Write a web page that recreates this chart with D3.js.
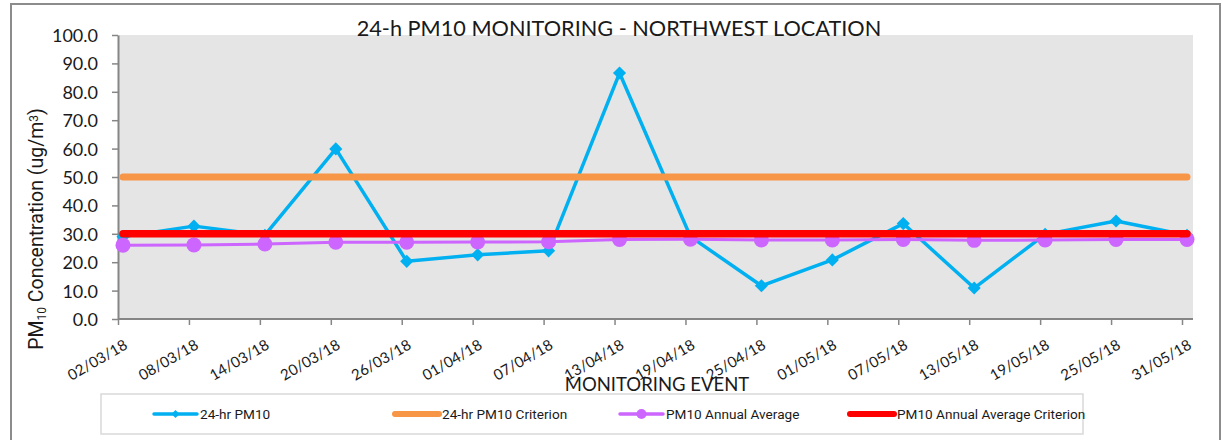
<!DOCTYPE html>
<html>
<head>
<meta charset="utf-8">
<script src="https://cdn.jsdelivr.net/npm/d3@7"></script>
<style>
  body { margin: 0; background: #fff; }
  svg { display: block; }
</style>
</head>
<body>
<div id="chart"></div>
<script>
// monitoring dates (category axis)
const dates = ['02/03/18','08/03/18','14/03/18','20/03/18','26/03/18','01/04/18','07/04/18','13/04/18',
               '19/04/18','25/04/18','01/05/18','07/05/18','13/05/18','19/05/18','25/05/18','31/05/18'];
// 24-hr PM10 readings (ug/m3)
const pm10 = [29.0, 32.7, 29.5, 59.9, 20.3, 22.6, 24.0, 86.6, 29.0, 11.7, 20.8, 33.6, 10.9, 29.8, 34.5, 29.5];
// running annual average
const annualAvg = [26.0, 26.1, 26.4, 27.0, 27.0, 27.1, 27.2, 28.0, 28.1, 27.8, 27.8, 28.0, 27.7, 27.8, 28.0, 28.0];
// criteria
const criterion24h = 50;
const criterionAnnual = 30;
const yTicks = [0, 10, 20, 30, 40, 50, 60, 70, 80, 90, 100];

const W = 1222, H = 440;
const plotL = 118, plotR = 1193, plotT = 35, plotB = 319;

const svg = d3.select('#chart').append('svg')
  .attr('width', W).attr('height', H);

// outer chart border
svg.append('rect')
  .attr('x', 11).attr('y', 4).attr('width', 1209).attr('height', 460)
  .attr('fill', 'none').attr('stroke', '#8c8c8c').attr('stroke-width', 2);

// plot area
svg.append('rect')
  .attr('x', plotL).attr('y', plotT).attr('width', plotR - plotL).attr('height', plotB - plotT)
  .attr('fill', '#e5e5e5');

const x = d3.scalePoint().domain(dates).range([123, 1187]);
const y = d3.scaleLinear().domain([0, 100]).range([plotB, plotT]);

// y axis
const yAxis = svg.append('g')
  .attr('transform', 'translate(' + plotL + ',0)')
  .call(d3.axisLeft(y).tickValues(yTicks).tickFormat(d3.format('.1f')).tickSize(6).tickSizeOuter(0));
yAxis.select('.domain').attr('stroke', '#868686').attr('stroke-width', 2);
yAxis.selectAll('.tick line').attr('stroke', '#868686').attr('stroke-width', 1.5);
yAxis.selectAll('.tick text')
  .attr('x', -20).attr('dy', '0.36em')
  .style('font-family', 'Lato, sans-serif').style('font-size', '18px').attr('fill', '#1a1a1a');

// x axis (ticks sit slightly left of points, like the original)
const xAxis = svg.append('g')
  .attr('transform', 'translate(-5,' + plotB + ')')
  .call(d3.axisBottom(x).tickSize(6).tickSizeOuter(0));
xAxis.select('.domain').remove();
xAxis.selectAll('.tick line').attr('stroke', '#868686').attr('stroke-width', 1.5);
xAxis.selectAll('.tick text')
  .attr('text-anchor', 'end')
  .attr('x', 0).attr('y', 0).attr('dy', 0)
  .attr('transform', 'translate(10,29) rotate(-30)')
  .style('font-family', 'Lato, sans-serif').style('font-size', '15px').attr('fill', '#1a1a1a');
svg.append('line')
  .attr('x1', plotL).attr('x2', plotR).attr('y1', plotB).attr('y2', plotB)
  .attr('stroke', '#868686').attr('stroke-width', 2);

// series: 24-hr PM10
const line = d3.line().x((d, i) => x(dates[i])).y(d => y(d));
svg.append('path').datum(pm10)
  .attr('d', line).attr('fill', 'none')
  .attr('stroke', '#00b0f0').attr('stroke-width', 3.5).attr('stroke-linejoin', 'round');
svg.selectAll('.diamond').data(pm10).enter().append('path')
  .attr('class', 'diamond')
  .attr('d', d3.symbol().type(d3.symbolDiamond2).size(110))
  .attr('transform', (d, i) => 'translate(' + x(dates[i]) + ',' + y(d) + ')')
  .attr('fill', '#00b0f0');

// 24-hr criterion
svg.append('line')
  .attr('x1', x(dates[0])).attr('x2', x(dates[dates.length - 1]))
  .attr('y1', y(criterion24h)).attr('y2', y(criterion24h))
  .attr('stroke', '#f79646').attr('stroke-width', 7).attr('stroke-linecap', 'round');

// annual average
svg.append('path').datum(annualAvg)
  .attr('d', line).attr('fill', 'none')
  .attr('stroke', '#cc66ff').attr('stroke-width', 3);
svg.selectAll('.dot').data(annualAvg).enter().append('circle')
  .attr('class', 'dot')
  .attr('cx', (d, i) => x(dates[i])).attr('cy', d => y(d)).attr('r', 7.5)
  .attr('fill', '#cc66ff');

// annual criterion
svg.append('line')
  .attr('x1', x(dates[0])).attr('x2', x(dates[dates.length - 1]))
  .attr('y1', y(criterionAnnual)).attr('y2', y(criterionAnnual))
  .attr('stroke', '#ff0000').attr('stroke-width', 7.5).attr('stroke-linecap', 'round');

// title
svg.append('text')
  .attr('x', 619).attr('y', 36).attr('text-anchor', 'middle')
  .style('font-family', 'Lato, sans-serif').style('font-size', '21.7px').attr('fill', '#1a1a1a')
  .text('24-h PM10 MONITORING - NORTHWEST LOCATION');

// x axis title
svg.append('text')
  .attr('x', 657).attr('y', 391).attr('text-anchor', 'middle')
  .style('font-family', 'Lato, sans-serif').style('font-size', '18.5px').attr('fill', '#1a1a1a')
  .text('MONITORING EVENT');

// y axis title
const yt = svg.append('text')
  .attr('transform', 'translate(43,229) rotate(-90)')
  .attr('text-anchor', 'middle')
  .style('font-family', 'Roboto, sans-serif').style('font-size', '19.5px').attr('fill', '#1a1a1a');
yt.append('tspan').text('PM');
yt.append('tspan').attr('baseline-shift', '-25%').style('font-size', '12px').text('10');
yt.append('tspan').text(' Concentration (ug/m');
yt.append('tspan').attr('baseline-shift', '40%').style('font-size', '12px').text('3');
yt.append('tspan').text(')');

// legend
svg.append('rect')
  .attr('x', 101).attr('y', 394).attr('width', 982).attr('height', 40)
  .attr('fill', '#fff').attr('stroke', '#d9d9d9').attr('stroke-width', 1.5);

const legendItems = [
  {label: '24-hr PM10', color: '#00b0f0', x: 154, w: 43, width: 3.5, marker: 'diamond'},
  {label: '24-hr PM10 Criterion', color: '#f79646', x: 395, w: 44, width: 6, marker: null},
  {label: 'PM10 Annual Average', color: '#cc66ff', x: 620, w: 43, width: 3.5, marker: 'circle'},
  {label: 'PM10 Annual Average Criterion', color: '#ff0000', x: 850, w: 44, width: 6, marker: null}
];
const lg = svg.selectAll('.legend').data(legendItems).enter().append('g')
  .attr('class', 'legend')
  .attr('transform', d => 'translate(' + d.x + ',414)');
lg.append('line')
  .attr('x1', 0).attr('x2', d => d.w).attr('y1', 0).attr('y2', 0)
  .attr('stroke', d => d.color).attr('stroke-width', d => d.width).attr('stroke-linecap', 'round');
lg.filter(d => d.marker === 'diamond').append('path')
  .attr('d', d3.symbol().type(d3.symbolDiamond2).size(40))
  .attr('transform', d => 'translate(' + d.w / 2 + ',0)')
  .attr('fill', d => d.color);
lg.filter(d => d.marker === 'circle').append('circle')
  .attr('cx', d => d.w / 2).attr('cy', 0).attr('r', 5)
  .attr('fill', d => d.color);
lg.append('text')
  .attr('x', d => d.w + 3).attr('y', 0).attr('dy', '0.35em')
  .style('font-family', 'Roboto, sans-serif').style('font-size', '13.6px').attr('fill', '#1a1a1a')
  .text(d => d.label);
</script>
</body>
</html>
